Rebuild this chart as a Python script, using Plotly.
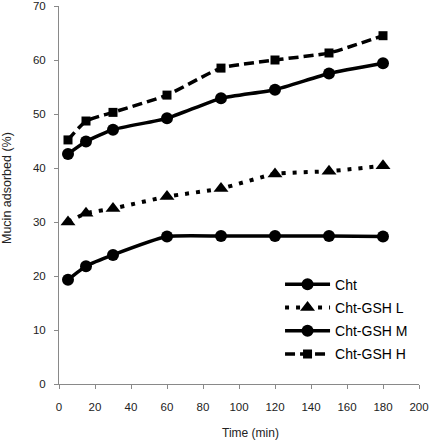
import plotly.graph_objects as go

time_min = [5, 15, 30, 60, 90, 120, 150, 180]
cht = [19.3, 21.8, 23.9, 27.3, 27.4, 27.4, 27.4, 27.3]
cht_gsh_l = [30.0, 31.6, 32.5, 34.7, 36.2, 38.9, 39.4, 40.4]
cht_gsh_m = [42.6, 44.9, 47.1, 49.2, 52.9, 54.5, 57.5, 59.4]
cht_gsh_h = [45.2, 48.7, 50.3, 53.5, 58.5, 60.0, 61.3, 64.5]

x_ticks = [0, 20, 40, 60, 80, 100, 120, 140, 160, 180, 200]
y_ticks = [0, 10, 20, 30, 40, 50, 60, 70]

fig = go.Figure()
fig.add_trace(go.Scatter(x=time_min, y=cht, name="Cht", mode="lines+markers", legendgroup="a",
                         line=dict(color="black", width=3.5, shape="spline", smoothing=0.5),
                         marker=dict(symbol="circle", size=12, color="black")))
fig.add_trace(go.Scatter(x=time_min, y=cht_gsh_l, name="Cht-GSH L", mode="lines+markers", legendgroup="b",
                         line=dict(color="black", width=4, dash="4px,7px", shape="spline", smoothing=0.5),
                         marker=dict(symbol="triangle-up", size=13, color="black")))
fig.add_trace(go.Scatter(x=time_min, y=cht_gsh_m, name="Cht-GSH M", mode="lines+markers", legendgroup="c",
                         line=dict(color="black", width=3.5, shape="spline", smoothing=0.5),
                         marker=dict(symbol="circle", size=12, color="black")))
fig.add_trace(go.Scatter(x=time_min, y=cht_gsh_h, name="Cht-GSH H", mode="lines+markers", legendgroup="d",
                         line=dict(color="black", width=3.5, dash="10px,5px", shape="spline", smoothing=0.5),
                         marker=dict(symbol="square", size=9, color="black")))

axis_common = dict(showgrid=False, zeroline=False, showline=True, linecolor="#898989",
                   linewidth=1, ticks="outside", tickcolor="#898989", ticklen=4,
                   ticklabeloverflow="allow", automargin=False,
                   tickfont=dict(family="Liberation Sans, Arial", size=11.5, color="#222222"))

fig.update_layout(
    width=434, height=441,
    margin=dict(l=59, r=15, t=6, b=57, autoexpand=False),
    plot_bgcolor="white", paper_bgcolor="white",
    xaxis=dict(range=[0, 200], tickvals=x_ticks, ticklabelstandoff=8, **axis_common),
    yaxis=dict(range=[0, 70], tickvals=y_ticks, ticklabelstandoff=6, **axis_common),
    legend=dict(x=0.614, y=0.305, xanchor="left", yanchor="top", traceorder="grouped",
                font=dict(family="Liberation Sans, Arial", size=14, color="black"),
                bgcolor="rgba(0,0,0,0)", tracegroupgap=2, itemwidth=45),
    showlegend=True,
    annotations=[
        dict(text="Time (min)", xref="paper", yref="paper", x=(250 - 59) / 360, y=-0.13,
             xanchor="center", yanchor="middle", showarrow=False,
             font=dict(family="Liberation Sans, Arial", size=12, color="#222222")),
        dict(text="Mucin adsorbed (%)", xref="paper", yref="paper", x=-0.145, y=0.518,
             xanchor="center", yanchor="middle", showarrow=False, textangle=-90,
             font=dict(family="Liberation Sans, Arial", size=12.5, color="#222222")),
    ],
)

fig.write_html("out.html", config={"displayModeBar": False},
               post_script="document.body.style.margin='0px';")
